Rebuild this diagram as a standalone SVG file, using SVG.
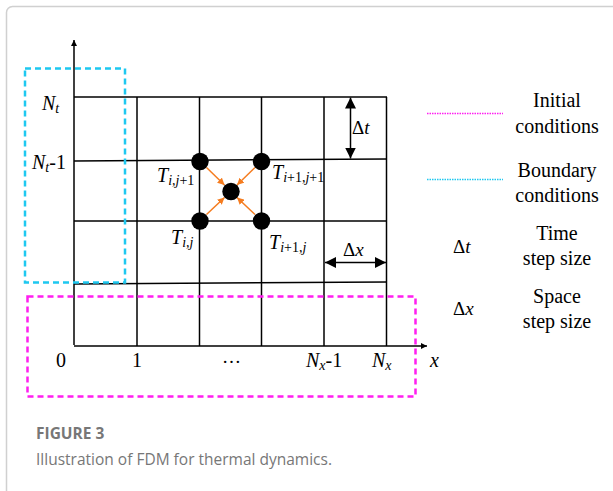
<svg xmlns="http://www.w3.org/2000/svg" width="613" height="491" viewBox="0 0 613 491">
<style>
.grid{stroke:#000;stroke-width:1.5;fill:none}
.t{font-family:"Liberation Serif","Times New Roman",serif;fill:#000}
.i{font-style:italic}
.lg{font-size:20px}
.cap{font-family:"Open Sans","Noto Sans",sans-serif;fill:#777}
.node{fill:#000}
.orange{stroke:#F57C1F;stroke-width:1.5;fill:none}
</style>
<defs>
<marker id="ah" viewBox="0 0 10 10" refX="10" refY="5" markerWidth="6" markerHeight="6" markerUnits="userSpaceOnUse" orient="auto"><path d="M0,0L10,5L0,10z" fill="#000"/></marker>
<marker id="ahb" viewBox="0 0 10 10" refX="10" refY="5" markerWidth="11" markerHeight="11" markerUnits="userSpaceOnUse" orient="auto"><path d="M0,0L10,5L0,10z" fill="#000"/></marker>
<marker id="aho" viewBox="0 0 10 10" refX="10" refY="5" markerWidth="7" markerHeight="7" markerUnits="userSpaceOnUse" orient="auto"><path d="M0,0L10,5L0,10z" fill="#F57C1F"/></marker>
</defs>
<rect width="613" height="491" fill="#fff"/>
<rect x="6.5" y="6.5" width="640" height="520" rx="6" fill="none" stroke="#d0d0d0" stroke-width="1.5"/>

<g id="grid">
<line class="grid" x1="74" y1="345" x2="74" y2="40" marker-end="url(#ah)"/>
<line class="grid" x1="74" y1="346" x2="427" y2="346" marker-end="url(#ah)"/>
<line class="grid" x1="74" y1="97" x2="387" y2="97"/>
<line class="grid" x1="74" y1="161" x2="387" y2="159"/>
<line class="grid" x1="74" y1="221" x2="387" y2="221"/>
<line class="grid" x1="74" y1="284" x2="387" y2="282"/>
<line class="grid" x1="137" y1="97" x2="137" y2="346"/>
<line class="grid" x1="199.5" y1="97" x2="199.5" y2="346"/>
<line class="grid" x1="261.5" y1="97" x2="261.5" y2="346"/>
<line class="grid" x1="324" y1="97" x2="324" y2="346"/>
<line class="grid" x1="386.5" y1="97" x2="386.5" y2="346"/>
</g>

<g id="boundary-box"><rect x="25" y="68.5" width="100" height="214" fill="none" stroke="#1EC8F0" stroke-width="2.5" stroke-dasharray="6 4"/></g>
<g id="initial-box"><rect x="27.5" y="296.5" width="388" height="100" fill="none" stroke="#FF1EF0" stroke-width="2.5" stroke-dasharray="6 4"/></g>

<g id="connectors">
<line class="orange" x1="206.5" y1="167.5" x2="224.5" y2="185" marker-end="url(#aho)"/>
<line class="orange" x1="255" y1="167.5" x2="237" y2="185" marker-end="url(#aho)"/>
<line class="orange" x1="206.5" y1="214.5" x2="224.5" y2="197.5" marker-end="url(#aho)"/>
<line class="orange" x1="255" y1="214.5" x2="237" y2="197.5" marker-end="url(#aho)"/>
<line class="grid" x1="350.5" y1="128" x2="350.5" y2="97.5" marker-end="url(#ahb)"/>
<line class="grid" x1="350.5" y1="128" x2="350.5" y2="158.5" marker-end="url(#ahb)"/>
<line class="grid" x1="355" y1="262.5" x2="325" y2="262.5" marker-end="url(#ahb)"/>
<line class="grid" x1="355" y1="262.5" x2="386" y2="262.5" marker-end="url(#ahb)"/>
</g>

<g id="n-ij1"><circle class="node" cx="200" cy="161.5" r="8.7"/></g>
<g id="n-i1j1"><circle class="node" cx="261.5" cy="161.5" r="8.7"/></g>
<g id="n-c"><circle class="node" cx="231" cy="191.5" r="8.7"/></g>
<g id="n-ij"><circle class="node" cx="200" cy="221" r="8.7"/></g>
<g id="n-i1j"><circle class="node" cx="261.5" cy="221" r="8.7"/></g>

<g id="labels" class="t">
<text x="157" y="182" font-size="20"><tspan class="i">T</tspan><tspan font-size="14" dy="3"><tspan class="i">i,j</tspan>+1</tspan></text>
<text x="272" y="179" font-size="20"><tspan class="i">T</tspan><tspan font-size="14" dy="3"><tspan class="i">i</tspan>+1,<tspan class="i">j</tspan>+1</tspan></text>
<text x="171" y="244" font-size="20"><tspan class="i">T</tspan><tspan font-size="14" dy="3" class="i">i,j</tspan></text>
<text x="269" y="249" font-size="20"><tspan class="i">T</tspan><tspan font-size="14" dy="3"><tspan class="i">i</tspan>+1,<tspan class="i">j</tspan></tspan></text>
<text x="352" y="134" font-size="19">Δ<tspan class="i">t</tspan></text>
<text x="343" y="256" font-size="19">Δ<tspan class="i">x</tspan></text>
<text x="42" y="110" font-size="20"><tspan class="i">N</tspan><tspan class="i" font-size="14" dy="3">t</tspan></text>
<text x="32" y="169" font-size="20"><tspan class="i">N</tspan><tspan class="i" font-size="14" dy="3">t</tspan><tspan dy="-3">-1</tspan></text>
<text x="56" y="367" font-size="20">0</text>
<text x="132" y="367" font-size="20">1</text>
<text x="222" y="363" font-size="19">…</text>
<text x="306" y="367" font-size="20"><tspan class="i">N</tspan><tspan class="i" font-size="14" dy="3">x</tspan><tspan dy="-3">-1</tspan></text>
<text x="372" y="367" font-size="20"><tspan class="i">N</tspan><tspan class="i" font-size="14" dy="3">x</tspan></text>
<text x="430" y="367" font-size="20" class="i">x</text>
</g>

<g id="legend" class="t">
<line x1="427" y1="113.5" x2="503" y2="113.5" stroke="#FF1EF0" stroke-width="1.5" stroke-dasharray="1.5 1"/>
<line x1="427" y1="179.5" x2="503" y2="179.5" stroke="#1EC8F0" stroke-width="1.5" stroke-dasharray="1.5 1"/>
<text x="557" y="107" class="lg" text-anchor="middle">Initial</text>
<text x="557" y="133" class="lg" text-anchor="middle">conditions</text>
<text x="557" y="177" class="lg" text-anchor="middle">Boundary</text>
<text x="557" y="202" class="lg" text-anchor="middle">conditions</text>
<text x="453" y="253" font-size="19">Δ<tspan class="i">t</tspan></text>
<text x="557" y="240" class="lg" text-anchor="middle">Time</text>
<text x="557" y="265" class="lg" text-anchor="middle">step size</text>
<text x="453" y="315" font-size="19">Δ<tspan class="i">x</tspan></text>
<text x="557" y="303" class="lg" text-anchor="middle">Space</text>
<text x="557" y="328" class="lg" text-anchor="middle">step size</text>
</g>

<g id="caption">
<text x="36" y="439" class="cap" font-size="15.5" font-weight="bold">FIGURE 3</text>
<text x="36" y="465" class="cap" font-size="15.5">Illustration of FDM for thermal dynamics.</text>
</g>
</svg>
